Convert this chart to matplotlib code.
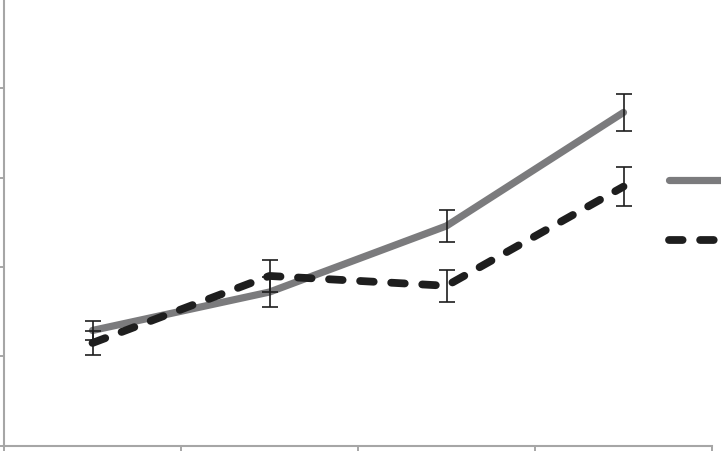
import numpy as np
import matplotlib
matplotlib.use('Agg')
import matplotlib.pyplot as plt

# values (y axis 0..5, no labels visible)
groups = ['1', '2', '3', '4']
solid_vals = [1.29, 1.72, 2.46, 3.73]
solid_err = [0.11, 0.17, 0.18, 0.21]
dashed_vals = [1.15, 1.90, 1.79, 2.90]
dashed_err = [0.13, 0.18, 0.18, 0.22]
series_names = ['', '']

W, H = 721, 452
fig = plt.figure(figsize=(W / 100, H / 100), dpi=100)
ax = fig.add_axes([4 / W, 5.3 / H, (712 - 4) / W, (452 - 5.3) / H])

x = np.arange(len(groups))
gray = '#7b7b7d'
black = '#1e1e1e'

l1, = ax.plot(x, solid_vals, color=gray, lw=5.2, solid_capstyle='round',
              solid_joinstyle='round', zorder=2)
l2, = ax.plot(x, dashed_vals, color=black, lw=5.6, dashes=(1.75, 2.25),
              dash_capstyle='round', zorder=3)
ax.errorbar(x, solid_vals, yerr=solid_err, fmt='none', ecolor=black,
            elinewidth=1.2, capsize=6, capthick=1.2, zorder=4)
ax.errorbar(x, dashed_vals, yerr=dashed_err, fmt='none', ecolor=black,
            elinewidth=1.2, capsize=6, capthick=1.2, zorder=4)

ax.set_xlim(-0.5, len(groups) - 0.5)
ax.set_ylim(0, 5)
ax.set_xticks(np.arange(len(groups) + 1) - 0.5)
ax.set_yticks(range(6))
ax.set_xticklabels([])
ax.set_yticklabels([])
ax.tick_params(direction='out', length=4, width=1.4, color='#a6a6a6')
for side in ['top', 'right']:
    ax.spines[side].set_visible(False)
for side in ['left', 'bottom']:
    ax.spines[side].set_color('#a6a6a6')
    ax.spines[side].set_linewidth(1.5)

leg = fig.legend([l1, l2], series_names, loc='upper left',
                 bbox_to_anchor=(661 / W, 1 - 167 / H), frameon=False,
                 handlelength=4.5, labelspacing=2.95, borderpad=0,
                 fontsize=11, handletextpad=0.5)

fig.savefig('out.png', dpi=100)
